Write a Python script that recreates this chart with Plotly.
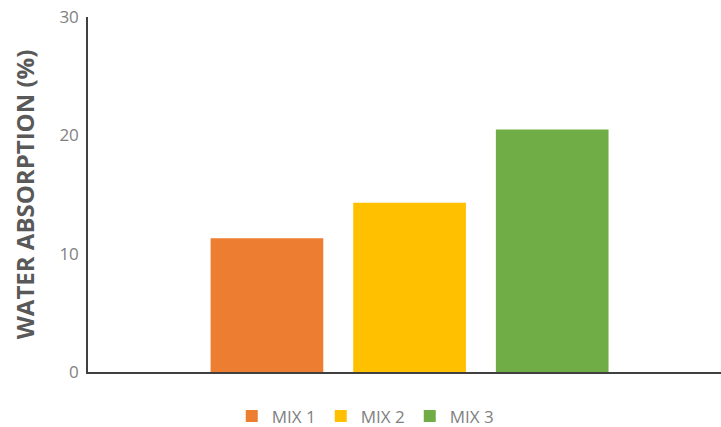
import plotly.graph_objects as go

# Water absorption results per mix
series_names = ["MIX 1", "MIX 2", "MIX 3"]
water_absorption = [11.3, 14.3, 20.5]
bar_colors = ["#ED7D31", "#FFC000", "#70AD47"]
y_ticks = [0, 10, 20, 30]

fig = go.Figure()
for name, val, col in zip(series_names, water_absorption, bar_colors):
    fig.add_trace(go.Bar(
        x=[""], y=[val], name=name,
        marker=dict(color=col, line=dict(width=0)),
    ))

fig.update_layout(
    width=721, height=427,
    margin=dict(l=88, r=0, t=17, b=55, autoexpand=False),
    paper_bgcolor="white", plot_bgcolor="white",
    barmode="group", bargap=0.324, bargroupgap=0.21,
    font=dict(family="Open Sans", color="#7F7F7F"),
    xaxis=dict(
        type="category", range=[-0.508, 0.492],
        showline=True, linecolor="#404040", linewidth=1.5,
        showticklabels=False, showgrid=False, zeroline=False,
    ),
    yaxis=dict(
        range=[0, 30], tickvals=y_ticks,
        showline=True, linecolor="#404040", linewidth=1.5,
        showgrid=False, zeroline=False,
        tickfont=dict(size=17, color="#7F7F7F"),
        ticklabelstandoff=4,
        title=dict(text="<b>WATER ABSORPTION (%)</b>",
                   font=dict(size=24, color="#595959"), standoff=18),
    ),
    legend=dict(
        orientation="h", x=0.438, xanchor="center",
        yref="container", y=0.067, yanchor="top",
        font=dict(size=17, color="#7F7F7F"),
        itemwidth=30, borderwidth=0,
    ),
)

fig.write_html("out.html")
